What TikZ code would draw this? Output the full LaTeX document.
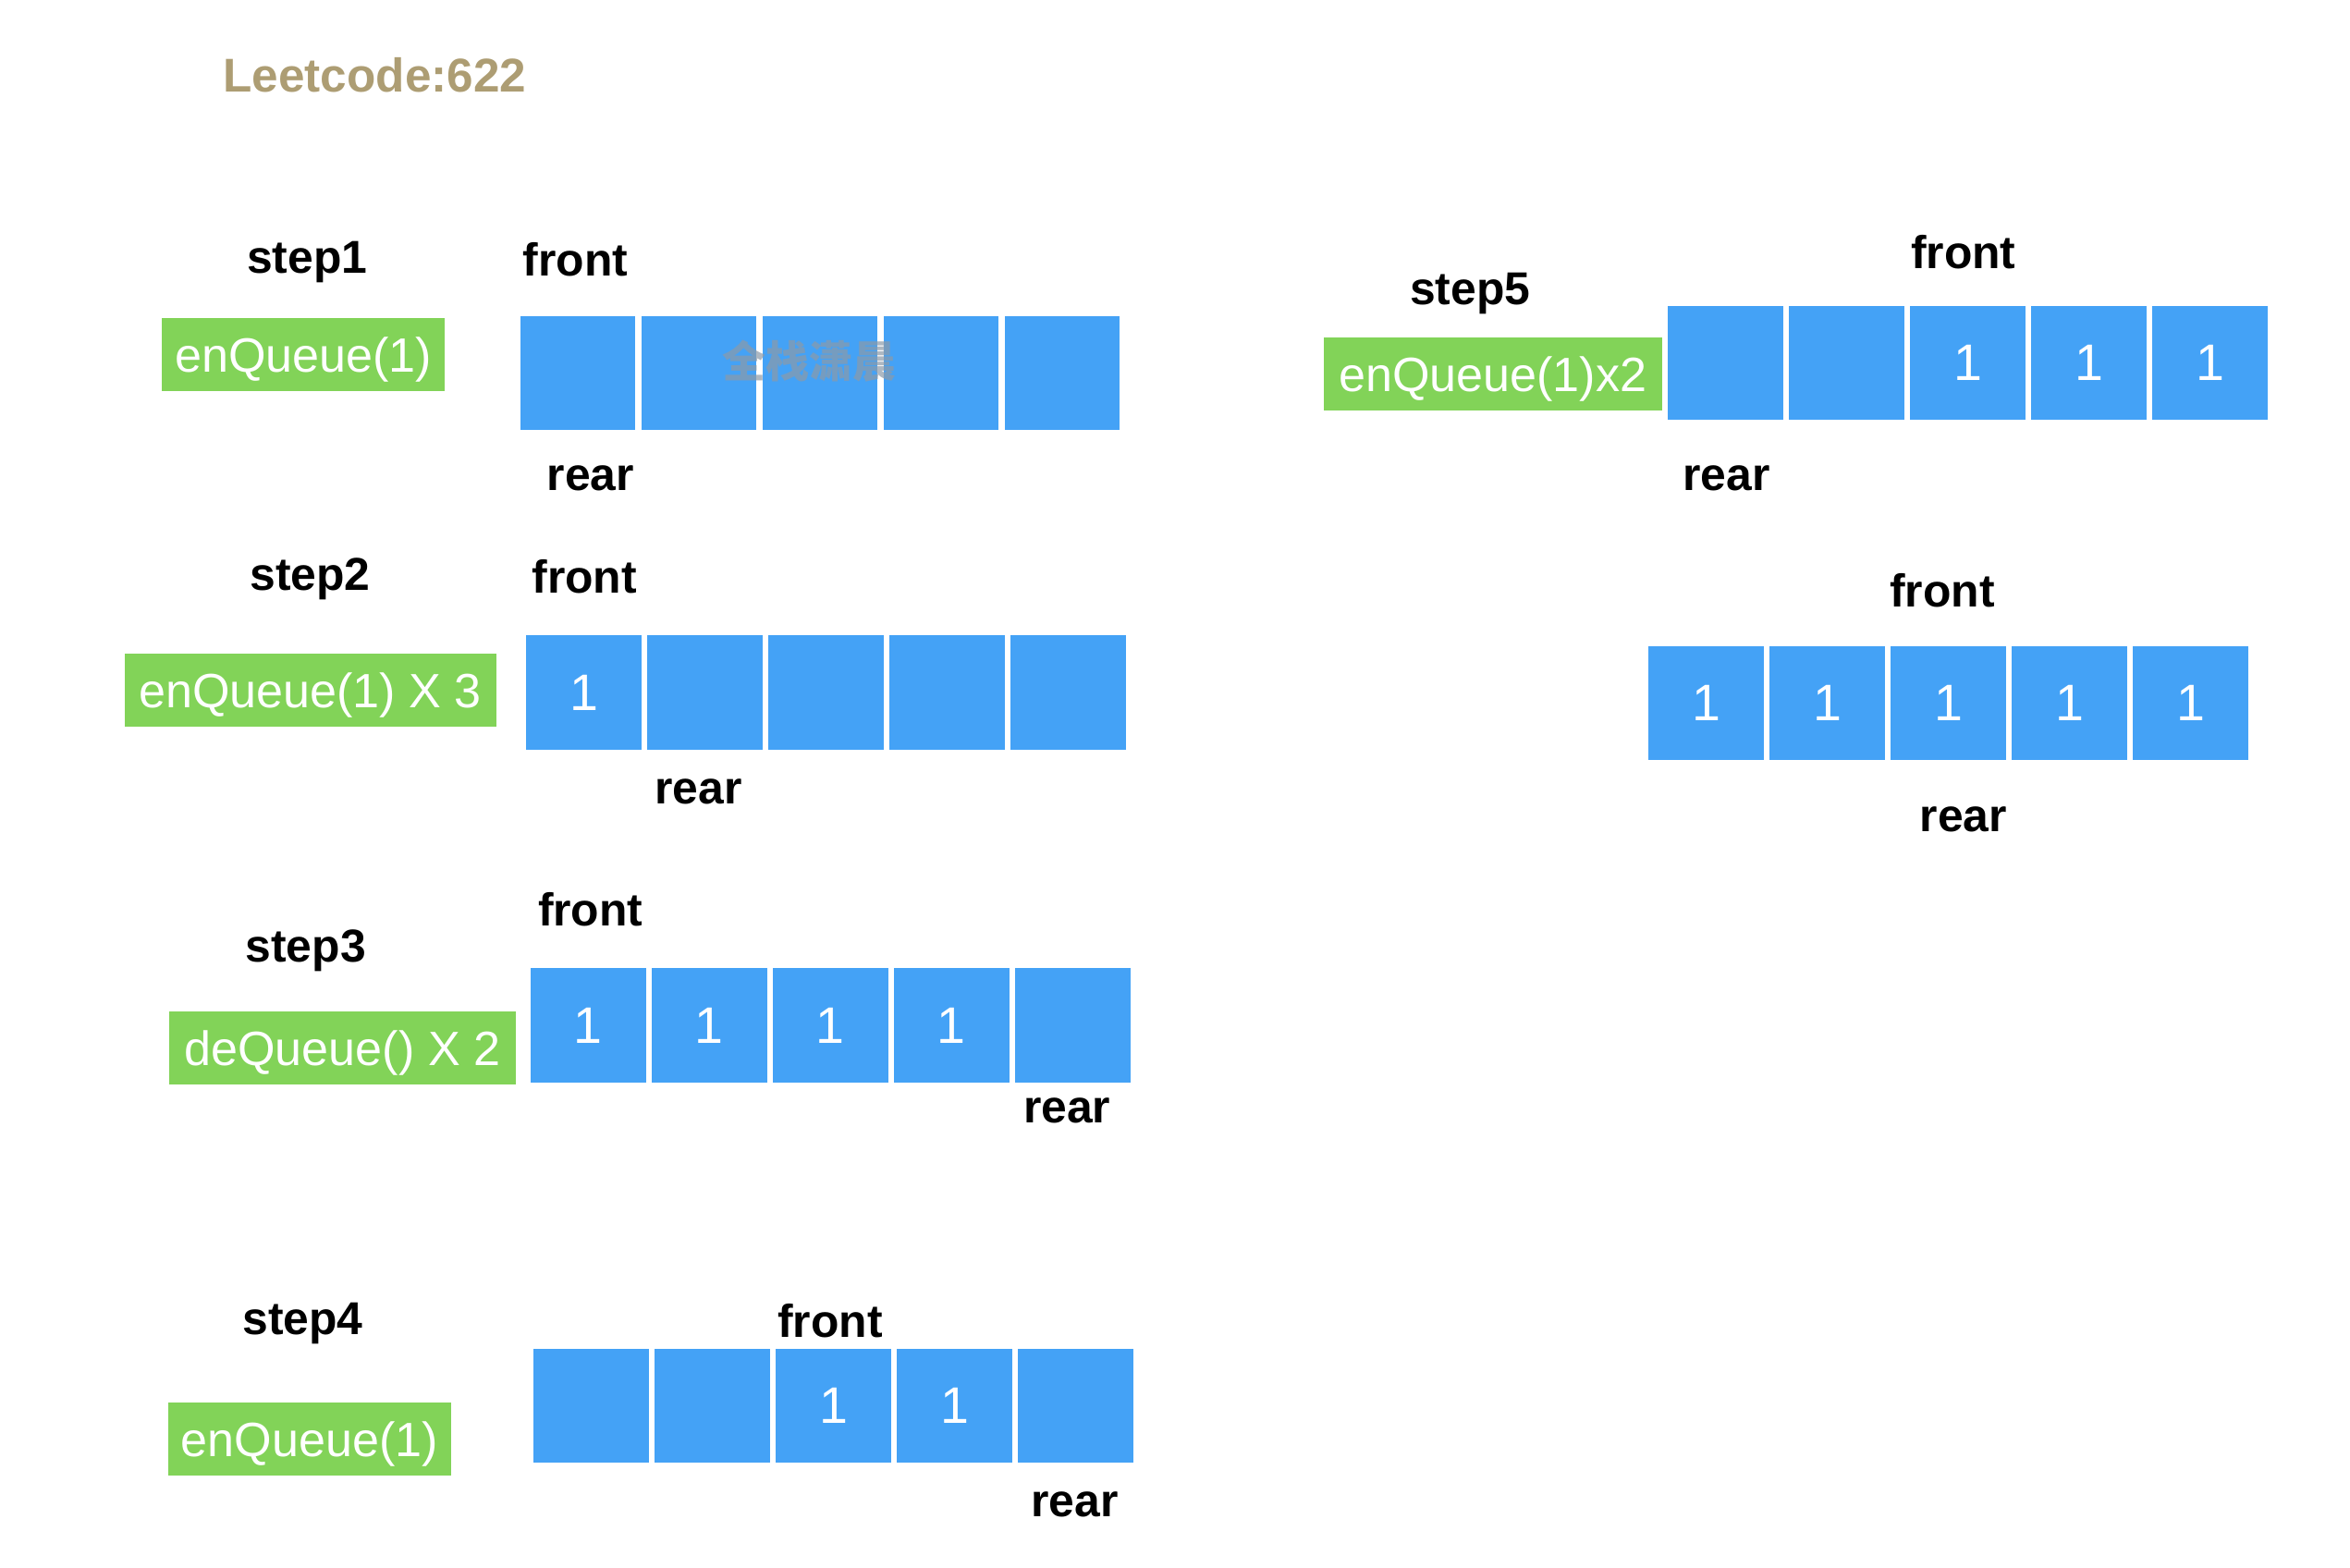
\documentclass[tikz,border=0pt]{standalone}
\usepackage{fontspec}
\setmainfont{Liberation Sans}
\newfontfamily\cjk{Noto Sans CJK SC}
\definecolor{qblue}{HTML}{44A2F6}
\definecolor{opgreen}{HTML}{82D358}
\definecolor{titlecol}{HTML}{AD9D73}
\definecolor{wmgray}{HTML}{8C9AA8}
\tikzset{
  cell/.style={fill=qblue, text=white, minimum width=1.54cm, minimum height=1.52cm, inner sep=0pt,
    font=\fontsize{19.5}{22}\selectfont},
  opbox/.style={fill=opgreen, text=white, minimum height=0.98cm, inner sep=0pt,
    text height=13.4pt, text depth=0pt,
    font=\fontsize{18.3}{20}\selectfont},
  steplabel/.style={font=\bfseries\fontsize{17.5}{20}\selectfont, text=black, inner sep=0pt},
  ptrlabel/.style={font=\bfseries\fontsize{17.5}{20}\selectfont, text=black, inner sep=0pt},
  titlestyle/.style={font=\bfseries\fontsize{18}{20}\selectfont, text=titlecol, inner sep=0pt},
}
\newcommand\queuerow[4]{%
  \foreach \v [count=\i] in {#4} {
    \node[cell] (#1-\i) at ({#2+38.5+(\i-1)*80.8},{#3+38}) {\v};
  }%
}
\begin{document}
\begin{tikzpicture}[x=0.02cm, y=-0.02cm]
\useasboundingbox (0,0) rectangle (1568,1046);

% title
\node[titlestyle] (title) at (250,50) {Leetcode:622};

% step 1
\node[steplabel] (s1) at (205,175) {step1};
\node[opbox, minimum width=3.78cm] (g1) at (202.5,236.5) {enQueue(1)};
\node[ptrlabel] (f1) at (384,173) {front};
\queuerow{q1}{347}{211}{{},{},{},{},{}}
\node[ptrlabel] (r1) at (394,319) {rear};
\node[text=wmgray, opacity=0.7, inner sep=0pt, font=\cjk\bfseries\fontsize{16.5}{18}\selectfont] (wm) at (540,241) {全栈潇晨};

% step 2
\node[steplabel] (s2) at (207,386) {step2};
\node[opbox, minimum width=4.96cm] (g2) at (207,460.5) {enQueue(1) X 3};
\node[ptrlabel] (f2) at (390,385) {front};
\queuerow{q2}{351}{424}{1,{},{},{},{}}
\node[ptrlabel] (r2) at (466,528) {rear};

% step 3
\node[steplabel] (s3) at (204,634) {step3};
\node[opbox, minimum width=4.62cm] (g3) at (228.5,699) {deQueue() X 2};
\node[ptrlabel] (f3) at (394,607) {front};
\queuerow{q3}{354}{646}{1,1,1,1,{}}
\node[ptrlabel] (r3) at (712,741) {rear};

% step 4
\node[steplabel] (s4) at (202,883) {step4};
\node[opbox, minimum width=3.78cm] (g4) at (206.5,960) {enQueue(1)};
\node[ptrlabel] (f4) at (554,881) {front};
\queuerow{q4}{356}{900}{{},{},1,1,{}}
\node[ptrlabel] (r4) at (717,1004) {rear};

% step 5
\node[steplabel] (s5) at (981,196) {step5};
\node[opbox, minimum width=4.52cm] (g5) at (996,249.5) {enQueue(1)x2};
\node[ptrlabel] (f5) at (1310,168) {front};
\queuerow{q5}{1113}{204}{{},{},1,1,1}
\node[ptrlabel] (r5) at (1152,319) {rear};

% step 5 result
\node[ptrlabel] (f6) at (1296,394) {front};
\queuerow{q6}{1100}{431}{1,1,1,1,1}
\node[ptrlabel] (r6) at (1310,547) {rear};
\end{tikzpicture}
\end{document}
